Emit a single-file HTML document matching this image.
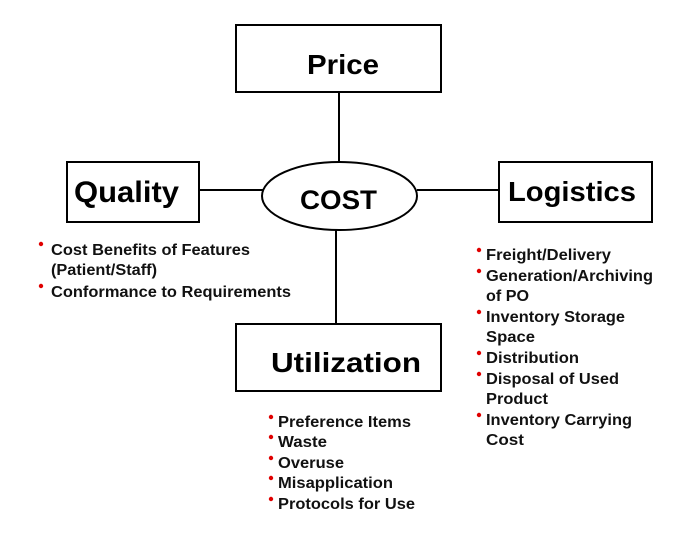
<!DOCTYPE html>
<html><head><meta charset="utf-8"><style>html,body{margin:0;padding:0;background:#fff}svg{display:block}</style></head>
<body>
<svg width="700" height="560" xmlns="http://www.w3.org/2000/svg" font-family="Liberation Sans, Arial, sans-serif">
<g stroke="#000" stroke-width="2" fill="none">
<line x1="339" y1="92" x2="339" y2="163"/>
<line x1="336" y1="230" x2="336" y2="324"/>
<line x1="199" y1="190" x2="263" y2="190"/>
<line x1="417" y1="190" x2="499" y2="190"/>
<rect x="236" y="25" width="205" height="67" fill="#fff"/>
<rect x="67" y="162" width="132" height="60" fill="#fff"/>
<rect x="499" y="162" width="153" height="60" fill="#fff"/>
<rect x="236" y="324" width="205" height="67" fill="#fff"/>
<ellipse cx="339.5" cy="196" rx="77.5" ry="34" fill="#fff"/>
</g>
<g font-weight="bold" fill="#000" font-size="28">
<text x="307" y="74" textLength="72" lengthAdjust="spacingAndGlyphs">Price</text>
<text x="74" y="202" font-size="30" textLength="105" lengthAdjust="spacingAndGlyphs">Quality</text>
<text x="508" y="201" textLength="128" lengthAdjust="spacingAndGlyphs">Logistics</text>
<text x="300" y="209" font-size="27" textLength="77" lengthAdjust="spacingAndGlyphs">COST</text>
<text x="271" y="372" textLength="150" lengthAdjust="spacingAndGlyphs">Utilization</text>
</g>
<g font-size="15.5" font-weight="bold" fill="#111" lengthAdjust="spacingAndGlyphs">
<text x="51" y="255" textLength="199" lengthAdjust="spacingAndGlyphs">Cost Benefits of Features</text>
<text x="51" y="275" textLength="106" lengthAdjust="spacingAndGlyphs">(Patient/Staff)</text>
<text x="51" y="297" textLength="240" lengthAdjust="spacingAndGlyphs">Conformance to Requirements</text>
<text x="486" y="260" textLength="125" lengthAdjust="spacingAndGlyphs">Freight/Delivery</text>
<text x="486" y="281" textLength="167" lengthAdjust="spacingAndGlyphs">Generation/Archiving</text>
<text x="486" y="301" textLength="43" lengthAdjust="spacingAndGlyphs">of PO</text>
<text x="486" y="322" textLength="139" lengthAdjust="spacingAndGlyphs">Inventory Storage</text>
<text x="486" y="342" textLength="49" lengthAdjust="spacingAndGlyphs">Space</text>
<text x="486" y="363" textLength="93" lengthAdjust="spacingAndGlyphs">Distribution</text>
<text x="486" y="384" textLength="133" lengthAdjust="spacingAndGlyphs">Disposal of Used</text>
<text x="486" y="404" textLength="62" lengthAdjust="spacingAndGlyphs">Product</text>
<text x="486" y="425" textLength="146" lengthAdjust="spacingAndGlyphs">Inventory Carrying</text>
<text x="486" y="445" textLength="38" lengthAdjust="spacingAndGlyphs">Cost</text>
<text x="278" y="427" textLength="133" lengthAdjust="spacingAndGlyphs">Preference Items</text>
<text x="278" y="447" textLength="49" lengthAdjust="spacingAndGlyphs">Waste</text>
<text x="278" y="468" textLength="66" lengthAdjust="spacingAndGlyphs">Overuse</text>
<text x="278" y="488" textLength="115" lengthAdjust="spacingAndGlyphs">Misapplication</text>
<text x="278" y="509" textLength="137" lengthAdjust="spacingAndGlyphs">Protocols for Use</text>
</g>
<g fill="#e00000">
<circle cx="41" cy="244" r="2.2"/><circle cx="41" cy="286" r="2.2"/>
<circle cx="479" cy="250" r="2.2"/><circle cx="479" cy="271" r="2.2"/><circle cx="479" cy="312" r="2.2"/><circle cx="479" cy="353" r="2.2"/><circle cx="479" cy="374" r="2.2"/><circle cx="479" cy="415" r="2.2"/>
<circle cx="271" cy="417" r="2.2"/><circle cx="271" cy="437" r="2.2"/><circle cx="271" cy="458" r="2.2"/><circle cx="271" cy="478" r="2.2"/><circle cx="271" cy="499" r="2.2"/>
</g>
</svg>
</body></html>
